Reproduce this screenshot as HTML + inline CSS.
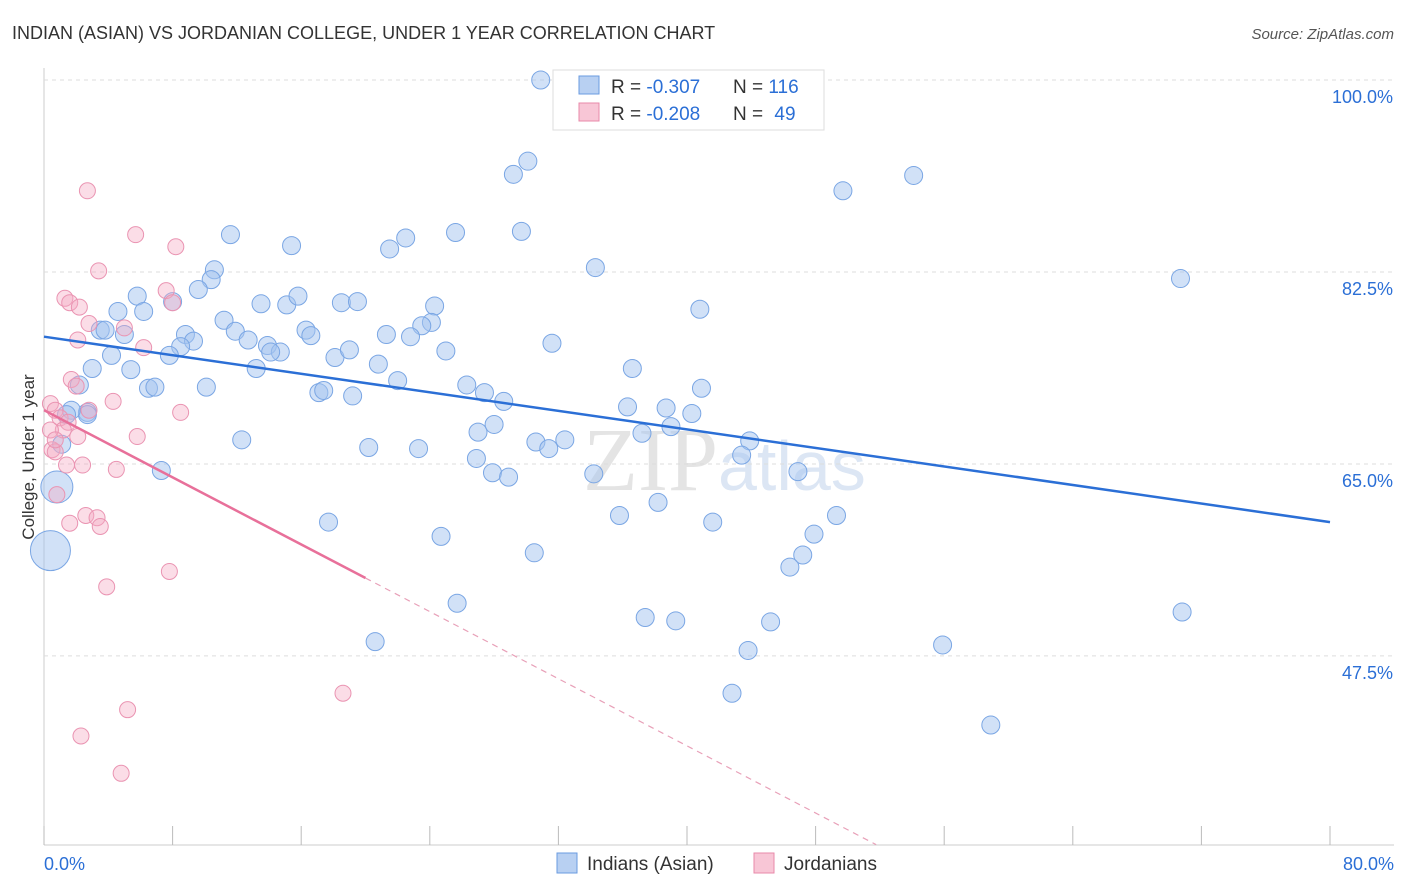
<!DOCTYPE html>
<html><head><meta charset="utf-8"><style>
body{margin:0;background:#fff;font-family:"Liberation Sans",sans-serif;}
#c{position:absolute;left:0;top:0;width:1406px;height:892px;}
</style></head><body>
<svg id="c" width="1406" height="892">
<text x="12" y="39" font-size="18" fill="#333">INDIAN (ASIAN) VS JORDANIAN COLLEGE, UNDER 1 YEAR CORRELATION CHART</text>
<text x="1394" y="39" font-size="15" fill="#555" text-anchor="end" font-style="italic">Source: ZipAtlas.com</text>
<text transform="translate(34,457) rotate(-90)" font-size="17" fill="#333" text-anchor="middle">College, Under 1 year</text>
<text x="718" y="490" font-size="90" fill="#e4e4e4" text-anchor="end" font-family="Liberation Serif">ZIP</text>
<text x="718" y="490" font-size="70" fill="#dce6f4">atlas</text>
<g id="grid"></g><g id="pts"></g><g id="lines"></g>
<g>
<rect x="553" y="70" width="271" height="60" fill="#fff" stroke="#ddd"/>
<rect x="579" y="76" width="20" height="18" fill="#b8d0f2" stroke="#6a9be0"/>
<rect x="579" y="103" width="20" height="18" fill="#f8c6d6" stroke="#e889aa"/>
<text x="611" y="93" font-size="19" fill="#333">R = <tspan fill="#2b6fd6">-0.307</tspan></text>
<text x="733" y="93" font-size="19" fill="#333">N = <tspan fill="#2b6fd6">116</tspan></text>
<text x="611" y="120" font-size="19" fill="#333">R = <tspan fill="#2b6fd6">-0.208</tspan></text>
<text x="733" y="120" font-size="19" fill="#333">N = <tspan fill="#2b6fd6" dx="6">49</tspan></text>
</g>
<g>
<rect x="557" y="853" width="20" height="20" fill="#b8d0f2" stroke="#6a9be0"/>
<text x="587" y="870" font-size="19" fill="#333">Indians (Asian)</text>
<rect x="754" y="853" width="20" height="20" fill="#f8c6d6" stroke="#e889aa"/>
<text x="784" y="870" font-size="19" fill="#333">Jordanians</text>
</g>
<text x="44" y="870" font-size="18" fill="#2b6fd6">0.0%</text>
<text x="1394" y="870" font-size="18" fill="#2b6fd6" text-anchor="end">80.0%</text>
</svg>
<script>
const yTicks=[100,82.5,65,47.5];
const xTickVals=[0,8,16,24,32,40,48,56,64,72,80];
const blueX=[30.9,30.1,29.2,49.7,54.1,70.7,11.6,15.4,21.5,22.5,25.6,29.7,34.3,10.6,10.4,9.6,5.8,4.6,6.2,8.0,11.2,13.5,15.1,15.8,18.5,19.5,24.3,24.1,23.5,22.8,21.3,16.3,16.6,11.9,12.7,8.8,9.3,8.5,7.8,3.5,3.8,5.0,4.2,3.0,2.2,5.4,6.5,6.9,10.1,13.2,13.9,14.7,14.1,18.1,19.0,20.8,22.0,25.0,31.6,40.8,26.3,27.4,28.6,27.0,28.0,26.9,27.9,28.9,17.1,17.4,19.2,12.3,20.2,23.3,30.6,31.4,32.4,34.2,36.3,36.6,37.2,38.7,39.0,40.3,40.9,43.9,43.4,46.9,38.2,35.8,41.6,49.3,47.9,47.2,46.4,30.5,24.7,25.7,37.4,39.3,45.2,43.8,55.9,70.8,42.8,58.9,20.6,17.7,7.3,2.7,2.7,1.7,1.4,1.1,0.8,0.4];
const blueY=[100,92.6,91.4,89.9,91.3,81.9,85.9,84.9,84.6,85.6,86.1,86.2,82.9,82.7,81.8,80.9,80.3,78.9,78.9,79.8,78.1,79.6,79.5,80.3,79.7,79.8,79.4,77.9,77.6,76.6,76.8,77.2,76.7,77.1,76.3,76.8,76.2,75.7,74.9,77.2,77.2,76.8,74.9,73.7,72.2,73.6,71.9,72.0,72.0,73.7,75.8,75.2,75.2,74.7,75.4,74.1,72.6,75.3,76.0,79.1,72.2,71.5,70.7,67.9,68.6,65.5,64.2,63.8,71.5,71.7,71.2,67.2,66.5,66.4,67.0,66.4,67.2,64.1,70.2,73.7,67.8,70.1,68.4,69.6,71.9,67.1,65.8,64.3,61.5,60.3,59.7,60.3,58.6,56.7,55.6,56.9,58.4,52.3,51.0,50.7,50.6,48.0,48.5,51.5,44.1,41.2,48.8,59.7,64.4,69.7,69.5,69.9,69.5,66.8,62.9,57.1];
const blueSize=blueX.map((v,i)=>i===blueX.length-1?20:(i===blueX.length-2?16:9));
const pinkX=[2.7,5.7,8.2,3.4,1.3,1.6,2.2,7.6,8.0,2.8,5.0,2.1,6.2,1.7,2.0,4.3,2.8,8.5,0.4,0.7,1.0,1.5,1.2,2.1,5.8,0.5,0.7,1.4,2.4,4.5,0.8,2.6,3.3,1.6,3.5,3.9,7.8,5.2,2.3,4.8,18.6,0.4,0.7];
const pinkY=[89.9,85.9,84.8,82.6,80.1,79.7,79.3,80.8,79.7,77.8,77.4,76.3,75.6,72.7,72.1,70.7,69.9,69.7,70.5,69.9,69.2,68.8,68.1,67.5,67.5,66.3,66.1,64.9,64.9,64.5,62.2,60.3,60.1,59.6,59.3,53.8,55.2,42.6,40.2,36.8,44.1,68.1,67.2];
const blueTrend=[76.6,59.7];
const pinkTrend=[69.9,54.6];
const NS="http://www.w3.org/2000/svg";
const X=v=>44+v*16.075, Y=v=>80+(100-v)*10.97;
function mk(t,a,p){const e=document.createElementNS(NS,t);for(const k in a)e.setAttribute(k,a[k]);p.appendChild(e);return e;}
const g=document.getElementById('grid');
mk('line',{x1:44,y1:68,x2:44,y2:845,stroke:'#ccc'},g);
mk('line',{x1:44,y1:845,x2:1394,y2:845,stroke:'#ccc'},g);
yTicks.forEach(t=>{
 const l=mk('line',{x1:44,y1:Y(t),x2:1394,y2:Y(t),stroke:'#ddd','stroke-dasharray':'4,4'},g);
 
 
 const tx=mk('text',{x:1393,y:Y(t)+23,'font-size':18,fill:'#2b6fd6','text-anchor':'end'},g);
 tx.textContent=t.toFixed(1)+'%';
 
 
});
xTickVals.forEach(t=>{
 const l=mk('line',{x1:X(t),y1:826,x2:X(t),y2:845,stroke:'#bbb'},g);
 
 
});
const p=document.getElementById('pts');
blueX.forEach((v,i)=>{
 const c=mk('circle',{cx:X(v),cy:Y(blueY[i]),r:blueSize[i],fill:'rgba(164,196,240,0.5)',stroke:'#7aa6e4','stroke-width':1},p);
 
 
});
pinkX.forEach((v,i)=>{
 const c=mk('circle',{cx:X(v),cy:Y(pinkY[i]),r:8,fill:'rgba(244,170,195,0.4)',stroke:'#ea94b2','stroke-width':1},p);
 
 
});
const L=document.getElementById('lines');
const bl=mk('line',{x1:X(0),y1:Y(blueTrend[0]),x2:X(80),y2:Y(blueTrend[1]),stroke:'#2b6fd6','stroke-width':2.5},L);


const slope=(pinkTrend[1]-pinkTrend[0])/20;
const pl=mk('line',{x1:X(0),y1:Y(pinkTrend[0]),x2:X(20),y2:Y(pinkTrend[1]),stroke:'#e8709a','stroke-width':2.5},L);


const xe=(30.3-pinkTrend[0])/slope;
const pd=mk('line',{x1:X(20),y1:Y(pinkTrend[1]),x2:X(xe),y2:Y(30.3),stroke:'#e8a0b8','stroke-width':1.2,'stroke-dasharray':'6,5'},L);


</script>
</body></html>
